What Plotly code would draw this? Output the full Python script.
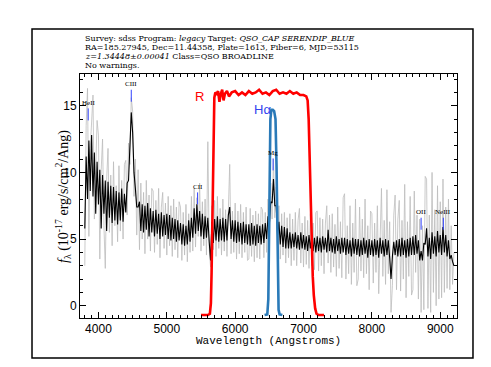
import plotly.graph_objects as go

# Wavelength grid of the spectrum (Angstroms), 20 A steps
wave = list(range(3800, 9201, 20))

# Smoothed flux (black), 10^-17 erg/s/cm^2/Ang
flux = [5.8, 11.2, 8.0, 12.4, 8.6, 12.8, 8.2, 11.5, 6.9, 10.8,
        7.6, 10.2, 5.8, 9.8, 6.9, 9.4, 5.6, 9.3, 6.6, 9.0,
        6.2, 8.9, 6.4, 8.6, 6.1, 8.5, 6.4, 8.8, 6.3, 8.4,
        7.0, 9.2, 9.4, 12.6, 14.5, 13.0, 10.0, 8.8, 7.4, 7.4,
        7.8, 5.6, 7.6, 5.5, 7.5, 5.7, 7.7, 5.2, 7.3, 5.5,
        7.1, 5.2, 7.2, 5.4, 6.9, 5.0, 7.0, 5.2, 6.8, 5.3,
        6.9, 5.0, 6.8, 4.9, 6.6, 5.0, 6.5, 4.8, 6.4, 4.9,
        6.2, 4.6, 6.1, 4.5, 6.0, 4.6, 6.4, 4.8, 6.6, 5.1,
        7.3, 5.4, 7.6, 5.6, 7.1, 5.2, 6.9, 5.0, 6.7, 5.1,
        6.6, 4.8, 3.4, 6.3, 4.7, 6.5, 4.9, 6.7, 4.8, 6.5,
        4.9, 6.6, 4.8, 6.5, 4.9, 6.8, 7.4, 5.0, 6.4, 4.8,
        6.4, 4.7, 6.3, 4.8, 6.2, 4.6, 6.3, 4.7, 6.1, 4.6,
        6.1, 4.5, 6.2, 4.6, 6.0, 4.5, 6.1, 4.7, 6.0, 4.6,
        6.1, 4.7, 6.2, 5.0, 6.7, 6.1, 7.8, 7.7, 9.5, 7.5,
        7.5, 5.3, 6.3, 4.6, 6.0, 4.4, 5.9, 4.3, 5.8, 4.3,
        5.5, 4.3, 5.4, 4.4, 5.5, 4.3, 5.3, 4.2, 5.5, 4.3,
        5.3, 4.2, 5.2, 4.1, 5.3, 4.3, 5.2, 4.1, 5.1, 4.0,
        5.2, 4.1, 5.1, 4.0, 5.2, 4.2, 5.1, 4.0, 5.7, 4.1,
        5.1, 4.0, 5.0, 3.9, 5.2, 4.1, 5.0, 3.9, 5.1, 4.0,
        5.1, 3.8, 5.0, 3.9, 4.9, 3.7, 5.1, 3.9, 5.0, 3.8,
        5.0, 3.7, 4.9, 3.8, 5.1, 3.9, 4.9, 3.6, 5.0, 3.8,
        4.9, 3.7, 5.0, 3.8, 4.9, 3.6, 5.1, 3.9, 4.9, 3.7,
        5.0, 3.8, 4.9, 3.6, 2.0, 3.7, 4.8, 3.8, 4.9, 3.7,
        5.0, 3.7, 5.1, 3.8, 4.9, 3.6, 5.0, 3.7, 5.1, 3.8,
        5.2, 3.8, 5.3, 3.9, 4.9, 3.4, 4.1, 3.4, 4.7, 4.6,
        5.8, 3.7, 5.1, 3.5, 5.5, 3.9, 5.2, 3.7, 5.6, 4.0,
        5.3, 3.8, 5.9, 4.0, 5.3, 3.7, 4.9, 3.5, 3.8, 3.3,
        3.0]

# Raw (noisy) flux (grey)
flux_raw = [3.0, 13.5, 16.3, 5.2, 11.8, 14.0, 15.8, 6.5, 10.5, 13.9,
            12.8, 3.5, 10.2, 12.5, 6.0, 2.8, 9.5, 11.8, 5.5, 9.8,
            4.5, 10.8, 6.0, 9.0, 4.8, 10.5, 5.6, 9.4, 5.0, 10.6,
            10.9, 6.8, 12.2, 10.6, 15.6, 14.6, 8.2, 11.0, 5.3, 10.2,
            4.2, 9.2, 5.0, 8.5, 3.9, 9.4, 5.0, 8.3, 4.1, 8.8,
            8.6, 4.0, 7.9, 4.6, 8.8, 3.6, 7.4, 8.5, 4.3, 7.7,
            3.8, 8.2, 4.5, 7.5, 3.7, 8.0, 4.2, 7.4, 3.6, 7.8,
            7.4, 3.4, 7.0, 3.8, 7.6, 3.3, 6.9, 4.0, 8.2, 4.1,
            8.8, 4.4, 8.1, 5.2, 9.2, 4.1, 7.8, 4.5, 8.0, 3.8,
            12.3, 4.3, 2.9, 7.5, 4.2, 7.9, 3.7, 8.2, 4.3, 7.3,
            3.8, 8.0, 4.1, 7.2, 3.7, 8.4, 10.6, 3.9, 7.1, 4.0,
            7.7, 3.5, 7.1, 3.9, 7.6, 3.6, 7.0, 4.0, 7.4, 3.4,
            3.5, 7.3, 3.7, 6.8, 3.3, 7.1, 3.6, 6.9, 3.5, 7.4,
            7.2, 3.6, 7.0, 4.0, 8.0, 4.7, 9.2, 6.5, 11.0, 6.6,
            8.9, 4.3, 7.5, 3.5, 6.9, 3.8, 7.0, 3.2, 6.6, 3.6,
            6.9, 3.0, 6.5, 3.4, 7.0, 3.0, 6.4, 7.3, 3.2, 6.2,
            2.9, 6.7, 3.1, 6.4, 2.8, 6.9, 3.0, 6.2, 2.7, 7.0,
            7.1, 2.6, 6.6, 3.0, 6.5, 2.4, 6.2, 7.5, 3.2, 6.8,
            2.5, 6.9, 2.9, 6.1, 2.2, 7.4, 2.8, 6.3, 2.1, 8.1,
            8.4, 2.0, 6.0, 2.4, 7.5, 1.6, 6.2, 2.5, 8.0, 1.5,
            2.0, 7.4, 2.6, 6.5, 2.1, 8.0, 2.4, 6.0, 1.2, 7.1,
            6.9, 1.7, 6.2, 2.5, 7.5, 0.9, 6.0, 8.8, 2.2, 6.4,
            1.6, 8.7, 2.4, 6.3, -0.5, 1.5, 6.8, 8.3, 1.2, 6.5,
            7.9, 1.1, 6.4, 2.0, 9.1, 0.6, 6.3, 2.2, 8.2, 0.8,
            1.2, 8.6, 2.5, 6.8, 0.5, 6.5, -0.5, 6.0, -0.3, 9.7,
            9.5, -0.2, 6.8, -0.5, 10.0, 1.0, 7.2, 0.0, 9.0, 0.5,
            7.8, 0.6, 9.5, 1.0, 7.4, 1.3, 8.0, 1.2, 6.0, 1.6,
            4.0]

# R filter curve (red)
r_wave = [5500, 5600, 5630, 5645, 5655, 5665, 5675, 5685, 5695,
          5710, 5730, 5750, 5770, 5790, 5810, 5830, 5850, 5880, 5910, 5950,
          6000, 6050, 6100, 6150, 6200, 6250, 6300, 6350, 6400, 6450, 6500,
          6550, 6600, 6650, 6700, 6750, 6800, 6850, 6900, 6950, 7000,
          7040, 7060, 7075, 7090, 7105, 7120, 7135, 7150, 7170, 7190, 7220, 7300]
r_resp = [-0.7, -0.7, -0.6, 0.2, 2.5, 6.5, 11.0, 14.3, 15.6,
          16.0, 15.9, 16.1, 15.3, 15.9, 16.2, 15.4, 15.9, 16.1, 15.7, 16.0,
          16.1, 15.8, 16.0, 15.8, 16.1, 15.9, 16.0, 16.2, 15.9, 16.0, 15.8,
          16.1, 16.2, 15.9, 16.0, 15.9, 16.1, 15.9, 16.0, 15.8, 15.8,
          15.7, 15.4, 14.0, 11.0, 7.5, 4.5, 2.2, 0.8, -0.2, -0.6, -0.7, -0.7]

# H-alpha filter curve (blue)
h_wave = [6430, 6470, 6485, 6495, 6505, 6515, 6530, 6550,
          6570, 6590, 6605, 6615, 6625, 6635, 6650, 6690]
h_resp = [-0.7, -0.65, 0.5, 4.0, 10.0, 14.0, 14.7, 14.7,
          14.6, 14.0, 10.5, 5.0, 1.5, -0.3, -0.65, -0.7]

# Emission line identifications
line_names = ["HeII", "CIII", "CII", "Mg", "OII", "NeIII"]
line_waves = [3850, 4480, 5450, 6555, 8720, 9045]
line_label_y = [15.2, 16.6, 8.9, 11.45, 7.0, 7.0]

fig = go.Figure()

fig.add_trace(go.Scatter(x=wave, y=flux_raw, mode="lines",
                         line=dict(color="rgb(188,188,188)", width=0.8)))
fig.add_trace(go.Scatter(x=wave, y=flux, mode="lines",
                         line=dict(color="black", width=1.1)))
fig.add_trace(go.Scatter(x=r_wave, y=r_resp, mode="lines",
                         line=dict(color="#ff0000", width=2.6)))
fig.add_trace(go.Scatter(x=h_wave, y=h_resp, mode="lines",
                         line=dict(color="#2a7ab8", width=2.6)))

# line markers (short blue ticks) + labels
for name, w, ly in zip(line_names, line_waves, line_label_y):
    fig.add_trace(go.Scatter(x=[w, w], y=[ly - 1.3, ly - 0.4], mode="lines",
                             line=dict(color="#3344ff", width=1)))
    fig.add_annotation(x=w, y=ly, text=name, showarrow=False,
                       font=dict(family="Liberation Serif", size=7, color="black"))

fig.add_annotation(x=5477, y=15.7, text="R", showarrow=False,
                   font=dict(family="Liberation Sans", size=13, color="#ff0000"))
fig.add_annotation(x=6400, y=14.7, text="Hα", showarrow=False,
                   font=dict(family="Liberation Sans", size=13, color="#3344ee"))

# header text
header = [
    "Survey: sdss Program: <i>legacy</i> Target: <i>QSO_CAP SERENDIP_BLUE</i>",
    "RA=185.27945, Dec=11.44358, Plate=1613, Fiber=6, MJD=53115",
    "<i>z=1.34448±0.00041</i> Class=QSO BROADLINE",
    "No warnings.",
]
for i, txt in enumerate(header):
    fig.add_annotation(xref="paper", yref="paper", x=0.008, y=1.1475 - 0.0378 * i,
                       text=txt, showarrow=False, xanchor="left", yanchor="middle",
                       font=dict(family="DejaVu Serif", size=8, color="black"))

# axis titles
fig.add_annotation(xref="paper", yref="paper", x=0.5, y=-0.128,
                   text="Wavelength (Angstroms)", showarrow=False,
                   font=dict(family="Liberation Mono", size=11, color="black"))
fig.add_annotation(xref="paper", yref="paper", x=-0.077, y=0.5, textangle=-90,
                   text="<i>f</i><sub>λ</sub> (10<sup>-17</sup> erg/s/cm<sup>2</sup>/Ang)",
                   showarrow=False,
                   font=dict(family="Liberation Serif", size=14, color="black"))

# outer frame
fig.add_shape(type="rect", xref="paper", yref="paper",
              x0=-0.1273, x1=1.0424, y0=-0.164, y1=1.184,
              line=dict(color="black", width=1.5))

axis_common = dict(showgrid=False, zeroline=False, showline=True, linecolor="black",
                   linewidth=1, mirror="allticks", ticks="inside", ticklen=6,
                   tickcolor="black", tickfont=dict(family="Liberation Sans", size=12,
                                                    color="black"))
fig.update_xaxes(range=[3730, 9245], tick0=4000, dtick=1000,
                 minor=dict(ticks="inside", ticklen=3, dtick=100, tickcolor="black"),
                 **axis_common)
fig.update_yaxes(range=[-0.92, 17.38], tick0=0, dtick=5,
                 minor=dict(ticks="inside", ticklen=3, dtick=1, tickcolor="black"),
                 **axis_common)

fig.update_layout(width=491, height=367, showlegend=False,
                  margin=dict(l=72, r=42, t=66, b=57),
                  paper_bgcolor="white", plot_bgcolor="white")

fig.write_html("out.html")
